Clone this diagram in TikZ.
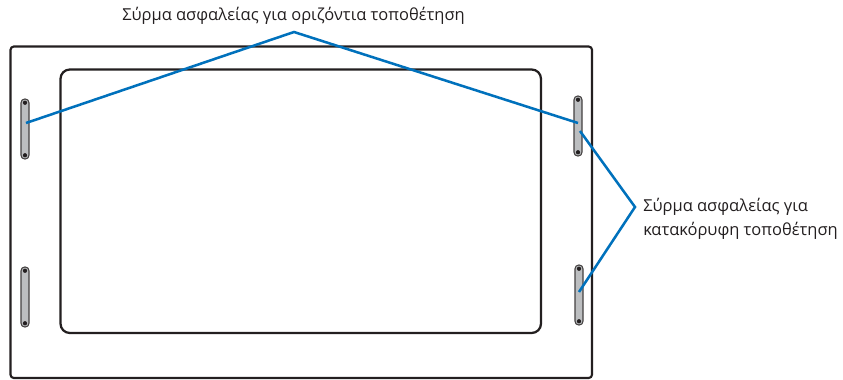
\documentclass[tikz,border=0pt]{standalone}
\usepackage{fontspec}
\setmainfont{Open Sans}
\definecolor{wire}{HTML}{0071BC}
\definecolor{ink}{HTML}{231F20}
\definecolor{plate}{HTML}{BCBEC0}
\tikzset{
  panel/.style={draw=ink,line width=1.6pt,fill=white,rounded corners=2.5pt},
  screen/.style={draw=ink,line width=1.7pt,rounded corners=7pt},
  bracket/.style={draw=ink!85,line width=0.8pt,fill=plate,rounded corners=2.8pt,minimum width=6pt,minimum height=45pt,inner sep=0pt},
  hole/.style={fill=ink,circle,minimum size=3.2pt,inner sep=0pt},
  leader/.style={draw=wire,line width=1.9pt,line join=miter},
  lbl/.style={text=ink,font=\fontsize{12.35pt}{18pt}\selectfont,inner sep=0pt},
}
\begin{document}
\begin{tikzpicture}[x=0.75pt,y=-0.75pt]
\useasboundingbox (0,0) rectangle (843,379);
\draw[panel] (10.5,46.5) rectangle (592,378);
\draw[screen] (60.5,69.5) rectangle (541,333);
\node[bracket] (lt) at (25,129) {};
\node[bracket] (lb) at (25,297) {};
\node[bracket] (rt) at (578,126) {};
\node[bracket] (rb) at (579,295) {};
\foreach \b in {lt,lb,rt,rb}{
  \node[hole] (\b u) at ([yshift=-19.7pt]\b.center) {};
  \node[hole] (\b d) at ([yshift=19.7pt]\b.center) {};
}
\node[lbl,anchor=base] (top) at (293.5,20.5) {Σύρμα ασφαλείας για οριζόντια τοποθέτηση};
\node[lbl,anchor=north west,align=left] (side) at (643,197.5) {Σύρμα ασφαλείας για\\κατακόρυφη τοποθέτηση};
\coordinate (apex) at (294,32);
\coordinate (fork) at (635,207);
\coordinate (a1) at (26,123);
\coordinate (a2) at (578,123);
\coordinate (a3) at (580,131);
\coordinate (a4) at (579,292);
\draw[leader] (a1) -- (apex) -- (a2);
\draw[leader] (a3) -- (fork) -- (a4);
\end{tikzpicture}
\end{document}
